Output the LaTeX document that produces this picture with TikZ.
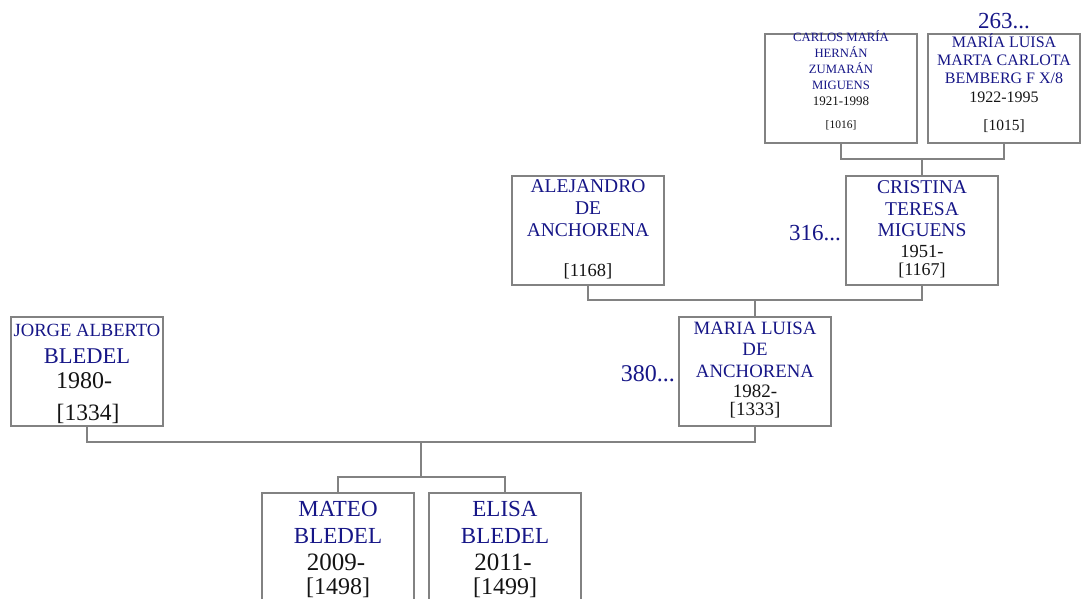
\documentclass[tikz,border=0pt]{standalone}
\usepackage{fontspec}
\setmainfont{Liberation Serif}
\definecolor{nameblue}{RGB}{22,22,135}
\definecolor{datablack}{RGB}{20,20,20}
\definecolor{boxgray}{RGB}{130,130,130}
\newcommand\fs[1]{\fontsize{#1}{#1}\selectfont}
\begin{document}
\begin{tikzpicture}[x=1pt,y=-1pt]
\useasboundingbox (0,0) rectangle (1084,598);
\tikzset{
  box/.style={draw=boxgray, line width=1.15pt, minimum width=152pt, minimum height=109pt, inner sep=0pt},
  conn/.style={draw=boxgray, line width=1.15pt},
  nm/.style={text=nameblue, anchor=base, inner sep=0pt},
  dt/.style={text=datablack, anchor=base, inner sep=0pt}
}
% boxes
\node[box] (carlos) at (841,88.5) {};
\node[box] (bemberg) at (1004,88.5) {};
\node[box] (alej) at (588,230.5) {};
\node[box] (crist) at (922,230.5) {};
\node[box] (jorge) at (87,371.5) {};
\node[box] (maria) at (755,371.5) {};
\node[box] (mateo) at (338,547.5) {};
\node[box] (elisa) at (505,547.5) {};
% connectors
\coordinate (j1) at (922,159);
\coordinate (j2) at (755,300);
\coordinate (j3) at (421,442);
\coordinate (j4) at (421,477);
\draw[conn] (carlos.south) |- (j1) -| (bemberg.south);
\draw[conn] (j1) -- (crist.north);
\draw[conn] (alej.south) |- (j2) -| (crist.south);
\draw[conn] (j2) -- (maria.north);
\draw[conn] (jorge.south) |- (j3) -| (maria.south);
\draw[conn] (j3) -- (j4);
\draw[conn] (mateo.north) |- (j4) -| (elisa.north);
% Carlos
\node[nm,font=\fs{12.7}] (c1) at (841,41) {CARLOS MARÍA};
\node[nm,font=\fs{12.7}] (c2) at (841,57) {HERNÁN};
\node[nm,font=\fs{12.7}] (c3) at (841,73) {ZUMARÁN};
\node[nm,font=\fs{12.7}] (c4) at (841,89) {MIGUENS};
\node[dt,font=\fs{13}] (c5) at (841,105) {1921-1998};
\node[dt,font=\fs{11.5}] (c6) at (841,128) {[1016]};
% Bemberg
\node[nm,font=\fs{23}] (b0) at (1004,28) {263...};
\node[nm,font=\fs{16}] (b1) at (1004,47) {MARÍA LUISA};
\node[nm,font=\fs{16}] (b2) at (1004,65) {MARTA CARLOTA};
\node[nm,font=\fs{16}] (b3) at (1004,83) {BEMBERG F X/8};
\node[dt,font=\fs{16}] (b4) at (1004,102) {1922-1995};
\node[dt,font=\fs{15.5}] (b5) at (1004,130) {[1015]};
% Alejandro
\node[nm,font=\fs{19.5}] (a1) at (588,192) {ALEJANDRO};
\node[nm,font=\fs{19.5}] (a2) at (588,214) {DE};
\node[nm,font=\fs{19.5}] (a3) at (588,236) {ANCHORENA};
\node[dt,font=\fs{18.5}] (a4) at (588,276) {[1168]};
% Cristina
\node[nm,font=\fs{23}, anchor=base east] (r0) at (841,240) {316...};
\node[nm,font=\fs{19.5}] (r1) at (922,193) {CRISTINA};
\node[nm,font=\fs{19.5}] (r2) at (922,215) {TERESA};
\node[nm,font=\fs{19.5}] (r3) at (922,236) {MIGUENS};
\node[dt,font=\fs{18.5}] (r4) at (922,257) {1951-};
\node[dt,font=\fs{18}] (r5) at (922,275) {[1167]};
% Jorge
\node[nm,font=\fs{18.6}] (g1) at (87,336) {JORGE ALBERTO};
\node[nm,font=\fs{22.5}] (g2) at (87,363) {BLEDEL};
\node[dt,font=\fs{24}] (g3) at (84,388) {1980-};
\node[dt,font=\fs{23.5}] (g4) at (88,420) {[1334]};
% Maria
\node[nm,font=\fs{24}, anchor=base east] (m0) at (675,381) {380...};
\node[nm,font=\fs{18.8}] (m1) at (755,334) {MARIA LUISA};
\node[nm,font=\fs{18.8}] (m2) at (755,355) {DE};
\node[nm,font=\fs{18.8}] (m3) at (755,377) {ANCHORENA};
\node[dt,font=\fs{19}] (m4) at (755,397) {1982-};
\node[dt,font=\fs{19}] (m5) at (755,415) {[1333]};
% Mateo
\node[nm,font=\fs{23}] (t1) at (338,516) {MATEO};
\node[nm,font=\fs{23}] (t2) at (338,543) {BLEDEL};
\node[dt,font=\fs{25}] (t3) at (336,570) {2009-};
\node[dt,font=\fs{24}] (t4) at (338,594) {[1498]};
% Elisa
\node[nm,font=\fs{23}] (e1) at (505,516) {ELISA};
\node[nm,font=\fs{23}] (e2) at (505,543) {BLEDEL};
\node[dt,font=\fs{25}] (e3) at (503,570) {2011-};
\node[dt,font=\fs{24}] (e4) at (505,594) {[1499]};
\end{tikzpicture}
\end{document}
